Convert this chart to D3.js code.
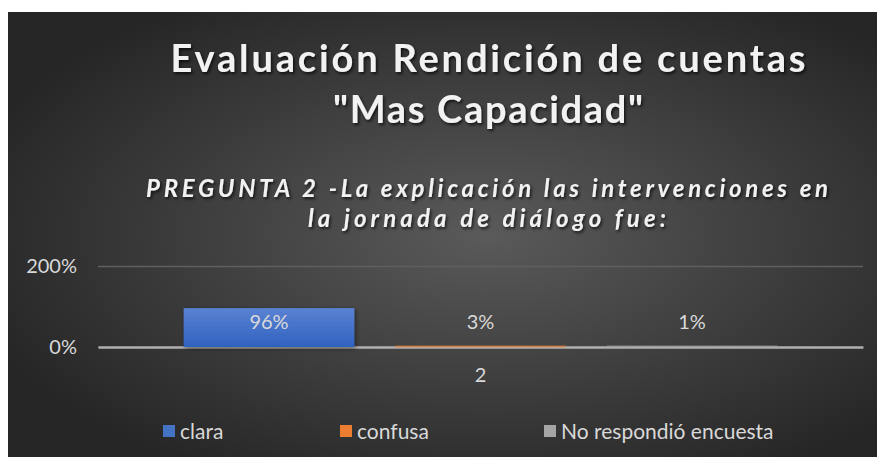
<!DOCTYPE html>
<html>
<head>
<meta charset="utf-8">
<script src="https://cdn.jsdelivr.net/npm/d3@7"></script>
<style>
  body { margin: 0; background: #ffffff; }
  text { font-family: Lato, "Open Sans", sans-serif; }
</style>
</head>
<body>
<script>
// chart values
const categories = ["2"];
const seriesNames = ["clara", "confusa", "No respondió encuesta"];
const seriesValues = [0.96, 0.03, 0.01];
const seriesColors = ["#4472C4", "#ED7D31", "#A5A5A5"];
const yTicks = [0, 2];
const titleLines = ["Evaluación Rendición de cuentas", "\"Mas Capacidad\""];
const subtitleLines = ["PREGUNTA 2 -La explicación las intervenciones en", "la jornada de diálogo fue:"];

const W = 877, H = 457;
const plot = {left: 98, right: 863, top: 266, bottom: 347};

const svg = d3.select("body").append("svg")
    .attr("width", W)
    .attr("height", H);

const defs = svg.append("defs");

// dark radial background
const bg = defs.append("radialGradient")
    .attr("id", "bg")
    .attr("cx", "55%").attr("cy", "50%").attr("r", "62%");
bg.append("stop").attr("offset", "0%").attr("stop-color", "#5a5a5a");
bg.append("stop").attr("offset", "100%").attr("stop-color", "#262626");

const blue = defs.append("linearGradient")
    .attr("id", "barBlue").attr("x1", 0).attr("y1", 0).attr("x2", 0).attr("y2", 1);
blue.append("stop").attr("offset", "0%").attr("stop-color", "#5b82d3");
blue.append("stop").attr("offset", "100%").attr("stop-color", "#2f62bf");

const shadow = defs.append("filter").attr("id", "shadow")
    .attr("x", "-10%").attr("y", "-20%").attr("width", "130%").attr("height", "150%");
shadow.append("feDropShadow")
    .attr("dx", 1.5).attr("dy", 1.5).attr("stdDeviation", 2)
    .attr("flood-color", "#000").attr("flood-opacity", 0.45);

const textShadow = defs.append("filter").attr("id", "tshadow")
    .attr("x", "-5%").attr("y", "-30%").attr("width", "110%").attr("height", "160%");
textShadow.append("feDropShadow")
    .attr("dx", 1.5).attr("dy", 2).attr("stdDeviation", 1.5)
    .attr("flood-color", "#000").attr("flood-opacity", 0.7);

svg.append("rect")
    .attr("x", 8).attr("y", 12)
    .attr("width", W - 8).attr("height", H - 12)
    .attr("fill", "url(#bg)");

// titles
const titleY = [72, 123];
const titleWidths = [635, 310];
svg.selectAll(".title")
    .data(titleLines)
    .join("text")
    .attr("class", "title")
    .attr("x", 488)
    .attr("y", (d, i) => titleY[i])
    .attr("text-anchor", "middle")
    .attr("textLength", (d, i) => titleWidths[i])
    .attr("lengthAdjust", "spacing")
    .style("font-weight", "bold")
    .style("font-size", "38px")
    .attr("fill", "#f2f2f2")
    .attr("filter", "url(#tshadow)")
    .text(d => d);

const subY = [197, 227];
const subWidths = [682, 358];
svg.selectAll(".subtitle")
    .data(subtitleLines)
    .join("text")
    .attr("class", "subtitle")
    .attr("x", 487)
    .attr("y", (d, i) => subY[i])
    .attr("text-anchor", "middle")
    .attr("textLength", (d, i) => subWidths[i])
    .attr("lengthAdjust", "spacing")
    .style("font-weight", "bold")
    .style("font-style", "italic")
    .style("font-size", "24px")
    .attr("fill", "#f2f2f2")
    .attr("filter", "url(#tshadow)")
    .text(d => d);

// scales
const y = d3.scaleLinear()
    .domain([0, 2])
    .range([plot.bottom, plot.top]);

const x0 = d3.scaleBand()
    .domain(categories)
    .range([plot.left, plot.right])
    .paddingInner(0.224)
    .paddingOuter(0.112);

const x1 = d3.scaleBand()
    .domain(seriesNames)
    .range([0, x0.bandwidth()])
    .paddingInner(0.193)
    .paddingOuter(0);

// gridline + y labels
const yAxis = svg.append("g")
    .attr("transform", `translate(${plot.left},0)`)
    .call(d3.axisLeft(y).tickValues(yTicks).tickSize(-(plot.right - plot.left))
        .tickFormat(d3.format(".0%")).tickPadding(21));
yAxis.select(".domain").remove();
yAxis.selectAll(".tick line")
    .attr("stroke", "#5f5f5f")
    .attr("stroke-width", 1.5);
yAxis.selectAll(".tick text")
    .attr("fill", "#d9d9d9")
    .style("font-size", "20px")
    .style("font-family", "Lato, sans-serif");

// bars
const rows = seriesNames.map((s, i) => ({name: s, value: seriesValues[i], color: seriesColors[i], cat: categories[0]}));

const barG = svg.append("g");
barG.selectAll("rect")
    .data(rows)
    .join("rect")
    .attr("x", d => x0(d.cat) + x1(d.name))
    .attr("y", d => y(d.value))
    .attr("width", x1.bandwidth())
    .attr("height", d => y(0) - y(d.value))
    .attr("fill", (d, i) => i === 0 ? "url(#barBlue)" : d.color)
    .attr("filter", "url(#shadow)");

// baseline (category axis)
const xAxis = svg.append("g")
    .attr("transform", `translate(0,${y(0)})`)
    .call(d3.axisBottom(x0).tickSize(0).tickPadding(21));
xAxis.select(".domain")
    .attr("stroke", "#bfbfbf")
    .attr("stroke-opacity", 0.85)
    .attr("stroke-width", 2.5);
xAxis.selectAll(".tick text")
    .attr("fill", "#d9d9d9")
    .style("font-size", "20px")
    .style("font-family", "Lato, sans-serif");

// thin bars drawn over baseline
barG.raise();
barG.selectAll("rect")
    .filter(d => d.value < 0.1)
    .attr("y", d => y(0) - 1.5)
    .attr("height", 2)
    .attr("opacity", 0.6)
    .attr("filter", null);

// data labels
const labelLevel = 0.62;
svg.append("g").selectAll("text")
    .data(rows)
    .join("text")
    .attr("x", d => x0(d.cat) + x1(d.name) + x1.bandwidth() / 2)
    .attr("y", y(labelLevel))
    .attr("dy", "0.35em")
    .attr("text-anchor", "middle")
    .attr("fill", "#d9d9d9")
    .style("font-size", "20px")
    .text(d => d3.format(".0%")(d.value));

// legend
const legendX = [163, 340, 544];
const legend = svg.append("g").selectAll("g")
    .data(rows)
    .join("g")
    .attr("transform", (d, i) => `translate(${legendX[i]},425)`);
legend.append("rect")
    .attr("width", 12).attr("height", 12)
    .attr("fill", d => d.color);
legend.append("text")
    .attr("x", 17)
    .attr("y", 6)
    .attr("dy", "0.36em")
    .attr("fill", "#d9d9d9")
    .style("font-size", "21px")
    .text(d => d.name);
</script>
</body>
</html>
